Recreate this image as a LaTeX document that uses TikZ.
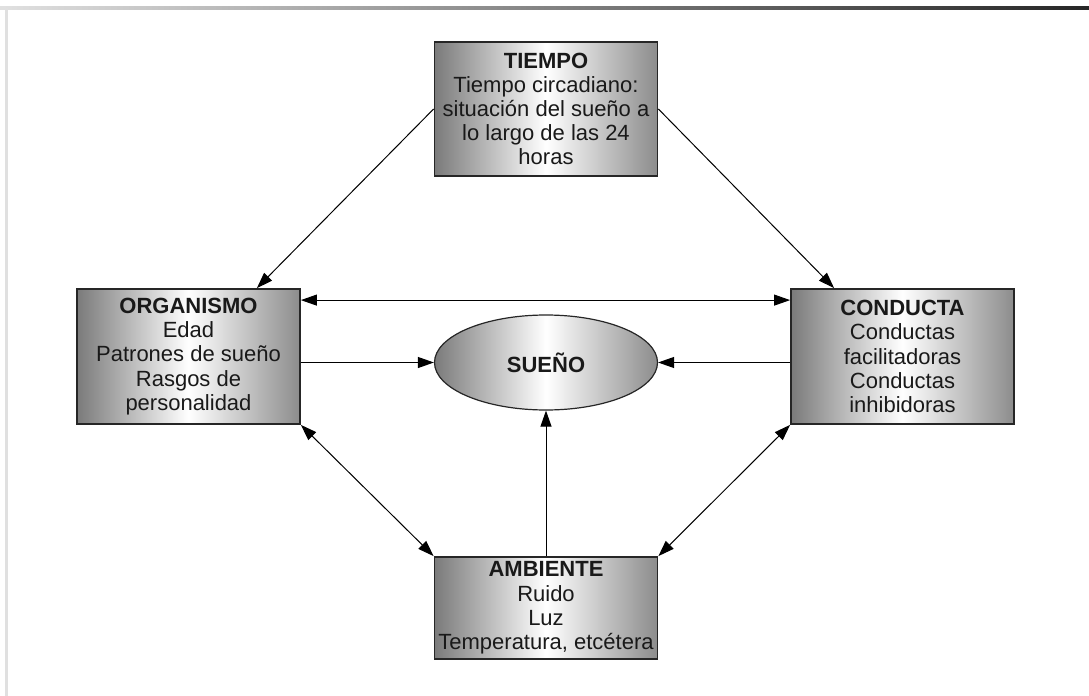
\documentclass[tikz,border=0pt]{standalone}
\usepackage{fontspec}
\setmainfont{Liberation Sans}
\usetikzlibrary{arrows.meta,shapes.geometric}

\begin{document}
\begin{tikzpicture}[x=0.5pt,y=-0.5pt,
    caja/.style={draw=black!85,line width=0.9pt,left color=black!52,right color=black!45,middle color=white,
      align=center,minimum width=111.5pt,inner sep=0pt,text=black!90,font=\fontsize{11}{12.1}\selectfont},
    flecha/.style={line width=0.5pt,>={Triangle[length=8pt,width=5.5pt]}}]
      \useasboundingbox (0,0) rectangle (1089,696);
      \shade[left color=black!12,right color=black!85] (0,6.5) rectangle (1089,9.5);
      \fill[black!12] (4.5,8) rectangle (7.5,696);
      \node[caja,minimum height=67pt] (tiempo) at (546,109) {\textbf{TIEMPO}\\Tiempo circadiano:\\situación del sueño a\\lo largo de las 24\\horas};
      \node[caja,minimum height=67.5pt] (organismo) at (188.5,356.5) {\textbf{ORGANISMO}\\Edad\\Patrones de sueño\\Rasgos de\\personalidad};
      \node[caja,minimum height=67.5pt] (conducta) at (902.5,356.5) {\textbf{CONDUCTA}\\Conductas\\facilitadoras\\Conductas\\inhibidoras};
      \node[caja,ellipse,line width=0.6pt,minimum height=47.5pt] (sueno) at (546,362.5) {\textbf{SUEÑO}};
      \node[caja,minimum height=51pt] (ambiente) at (546,608) {\textbf{AMBIENTE}\\Ruido\\Luz\\Temperatura, etcétera};
      \draw[flecha,->] (tiempo.west) -- (organismo.45);
      \draw[flecha,->] (tiempo.east) -- (conducta.135);
      \draw[flecha,<->] ([yshift=-6pt]organismo.north east) -- ([yshift=-6pt]conducta.north west);
      \draw[flecha,->] (organismo.east |- sueno.west) -- (sueno.west);
      \draw[flecha,->] (conducta.west |- sueno.east) -- (sueno.east);
      \draw[flecha,->] (ambiente.north) -- (sueno.south);
      \draw[flecha,<->] (organismo.south east) -- (ambiente.north west);
      \draw[flecha,<->] (conducta.south west) -- (ambiente.north east);
\end{tikzpicture}
\end{document}
